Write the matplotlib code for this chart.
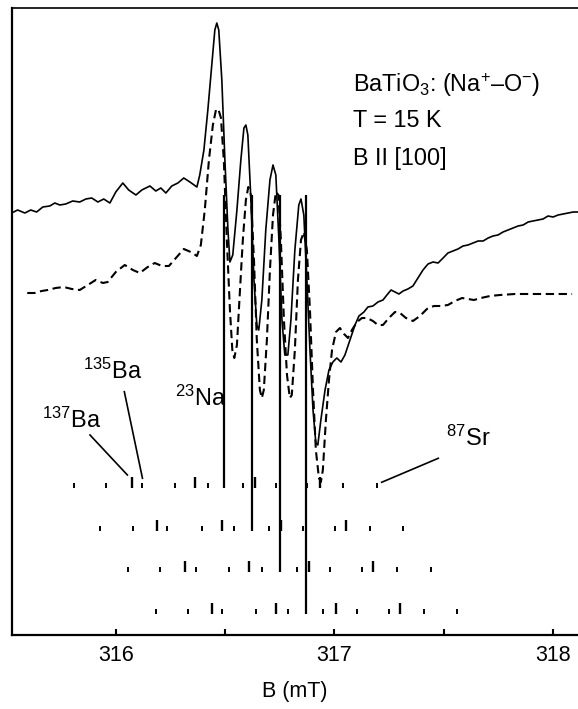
import matplotlib
matplotlib.use("Agg")
import matplotlib.pyplot as plt

plt.rcParams['font.family'] = ['Liberation Sans', 'DejaVu Sans']
plt.rcParams['mathtext.fontset'] = 'custom'
plt.rcParams['mathtext.rm'] = 'Liberation Sans'
plt.rcParams['mathtext.it'] = 'Liberation Sans'

# experimental spectrum (solid), B in mT, intensity in arbitrary units
exp_b = [315.533, 315.551, 315.584, 315.611, 315.638, 315.666, 315.698, 315.721, 315.744, 315.771,
         315.803, 315.835, 315.863, 315.890, 315.918, 315.945, 315.973, 316.000, 316.032, 316.059,
         316.092, 316.119, 316.156, 316.183, 316.206, 316.229, 316.256, 316.284, 316.311, 316.339,
         316.371, 316.384, 316.403, 316.421, 316.439, 316.453, 316.462, 316.471, 316.485, 316.499,
         316.513, 316.522, 316.535, 316.554, 316.572, 316.586, 316.595, 316.604, 316.618, 316.632,
         316.645, 316.654, 316.668, 316.686, 316.705, 316.719, 316.732, 316.746, 316.760, 316.773,
         316.787, 316.801, 316.819, 316.837, 316.847, 316.860, 316.874, 316.888, 316.902, 316.915,
         316.924, 316.938, 316.957, 316.975, 316.993, 317.011, 317.030, 317.048, 317.071, 317.094,
         317.112, 317.135, 317.153, 317.176, 317.199, 317.222, 317.240, 317.259, 317.277, 317.295,
         317.314, 317.336, 317.359, 317.382, 317.405, 317.428, 317.451, 317.474, 317.497, 317.519,
         317.542, 317.565, 317.588, 317.611, 317.634, 317.657, 317.680, 317.703, 317.725, 317.748,
         317.771, 317.794, 317.817, 317.840, 317.863, 317.886, 317.908, 317.931, 317.954, 317.977,
         318.000, 318.023, 318.046, 318.069, 318.092, 318.114]
exp_i = [423, 425, 422, 425, 423, 428, 429, 432, 430, 431,
         434, 433, 436, 437, 433, 436, 432, 443, 452, 445,
         440, 445, 449, 444, 447, 442, 449, 452, 457, 453,
         448, 460, 485, 525, 570, 605, 612, 605, 555, 475,
         405, 373, 380, 425, 475, 507, 510, 500, 435, 355,
         310, 305, 335, 405, 455, 470, 460, 395, 315, 280,
         280, 315, 385, 430, 436, 420, 355, 285, 225, 192,
         190, 215, 245, 265, 273, 277, 273, 280, 295, 310,
         319, 323, 328, 329, 333, 335, 340, 345, 343, 341,
         344, 346, 349, 357, 365, 371, 373, 372, 377, 382,
         384, 386, 389, 390, 392, 394, 394, 397, 399, 400,
         403, 405, 407, 409, 410, 413, 414, 415, 416, 419,
         418, 420, 421, 422, 423, 423]

# simulated spectrum (dashed)
sim_b = [315.595, 315.629, 315.661, 315.689, 315.725, 315.762, 315.799, 315.835, 315.872, 315.908,
         315.941, 315.963, 316.000, 316.041, 316.078, 316.110, 316.146, 316.178, 316.211, 316.243,
         316.275, 316.311, 316.343, 316.371, 316.389, 316.407, 316.426, 316.444, 316.458, 316.469,
         316.481, 316.494, 316.508, 316.522, 316.533, 316.542, 316.554, 316.568, 316.581, 316.595,
         316.606, 316.618, 316.632, 316.645, 316.659, 316.668, 316.677, 316.691, 316.705, 316.719,
         316.732, 316.744, 316.755, 316.769, 316.783, 316.796, 316.805, 316.819, 316.833, 316.847,
         316.860, 316.874, 316.888, 316.902, 316.915, 316.929, 316.938, 316.947, 316.961, 316.975,
         316.989, 317.007, 317.025, 317.044, 317.062, 317.080, 317.103, 317.126, 317.149, 317.176,
         317.199, 317.222, 317.249, 317.277, 317.300, 317.327, 317.359, 317.391, 317.423, 317.455,
         317.487, 317.519, 317.551, 317.584, 317.611, 317.638, 317.670, 317.712, 317.757, 317.826,
         317.895, 317.986, 318.087]
sim_i = [342, 342, 344, 345, 347, 348, 346, 345, 350, 355,
         352, 353, 363, 370, 365, 362, 368, 372, 369, 369,
         377, 386, 383, 379, 390, 425, 475, 510, 525, 526,
         517, 475, 395, 325, 285, 277, 290, 345, 395, 435,
         448, 440, 375, 295, 245, 237, 245, 295, 365, 420,
         443, 440, 395, 315, 260, 237, 240, 285, 355, 395,
         403, 385, 325, 245, 185, 157, 153, 165, 215, 255,
         285, 303, 307, 301, 297, 305, 313, 317, 317, 314,
         310, 310, 317, 323, 322, 317, 314, 319, 326, 329,
         329, 330, 334, 337, 336, 335, 337, 339, 340, 341,
         341, 341, 341]

# 23Na hyperfine lines and the Ba / Sr satellite sticks of each row
na_lines = [316.496, 316.622, 316.750, 316.872]
row_base = [146.7, 104, 63, 21]
na_top = 440

row1 = [315.809, 315.957, 316.072, 316.120, 316.270, 316.362, 316.420,
        316.580, 316.636, 316.732, 316.876, 316.934, 317.040, 317.193]
row2 = [315.930, 316.079, 316.189, 316.235, 316.392, 316.486, 316.540,
        316.702, 316.755, 316.854, 317.002, 317.051, 317.162, 317.312]
row3 = [316.056, 316.201, 316.316, 316.366, 316.517, 316.609, 316.667,
        316.830, 316.885, 316.979, 317.128, 317.178, 317.287, 317.440]
row4 = [316.182, 316.328, 316.438, 316.488, 316.641, 316.732, 316.789,
        316.949, 317.005, 317.101, 317.249, 317.300, 317.410, 317.561]
stick_h = [5, 5, 11, 5, 5, 11, 5, 5, 11, 5, 5, 11, 5, 5]

fig = plt.figure(figsize=(5.78, 7.09), dpi=100)
ax = fig.add_axes([0.0199, 0.1044, 0.9801, 0.8843])

ax.plot(exp_b, exp_i, color='black', lw=1.2)
ax.plot(sim_b, sim_i, color='black', lw=1.5, ls=(0, (4, 2.2)))

for b, base in zip(na_lines, row_base):
    ax.vlines(b, base, na_top, color='black', lw=1.6)

for row, base in zip([row1, row2, row3, row4], row_base):
    for b, h in zip(row, stick_h):
        ax.vlines(b, base, base + h, color='black', lw=1.7 if h > 5 else 1.4)

# isotope labels with leader lines
ax.plot([315.882, 316.053], [200, 160], color='black', lw=1.2)
ax.plot([316.039, 316.122], [243.3, 156.7], color='black', lw=1.2)
ax.plot([317.216, 317.475], [152.7, 176.7], color='black', lw=1.2)
ax.text(315.661, 207, r'$^{137}$Ba', fontsize=17, ha='left', va='baseline')
ax.text(315.849, 256, r'$^{135}$Ba', fontsize=17, ha='left', va='baseline')
ax.text(316.270, 229, r'$^{23}$Na', fontsize=17, ha='left', va='baseline')
ax.text(317.510, 189, r'$^{87}$Sr', fontsize=17, ha='left', va='baseline')

ax.text(317.083, 543, r'BaTiO$_3$: (Na$^{+}$–O$^{-}$)', fontsize=16.8, ha='left', va='baseline')
ax.text(317.083, 508, 'T = 15 K', fontsize=16.8, ha='left', va='baseline')
ax.text(317.083, 470, 'B II [100]', fontsize=16.8, ha='left', va='baseline')

ax.set_xlim(315.523, 318.114)
ax.set_ylim(0, 627)
ax.set_xticks([316, 317, 318])
ax.set_xticks([316.5, 317.5], minor=True)
ax.set_yticks([])
ax.tick_params(axis='x', which='both', direction='in', length=4.5, width=1.5,
               labelsize=15.5, pad=7)
ax.set_xlabel('B (mT)', fontsize=15.5, labelpad=11)
ax.spines['right'].set_visible(False)
for s in ['left', 'bottom']:
    ax.spines[s].set_linewidth(1.6)
ax.spines['top'].set_linewidth(1.2)

fig.savefig('out.png', dpi=100)
